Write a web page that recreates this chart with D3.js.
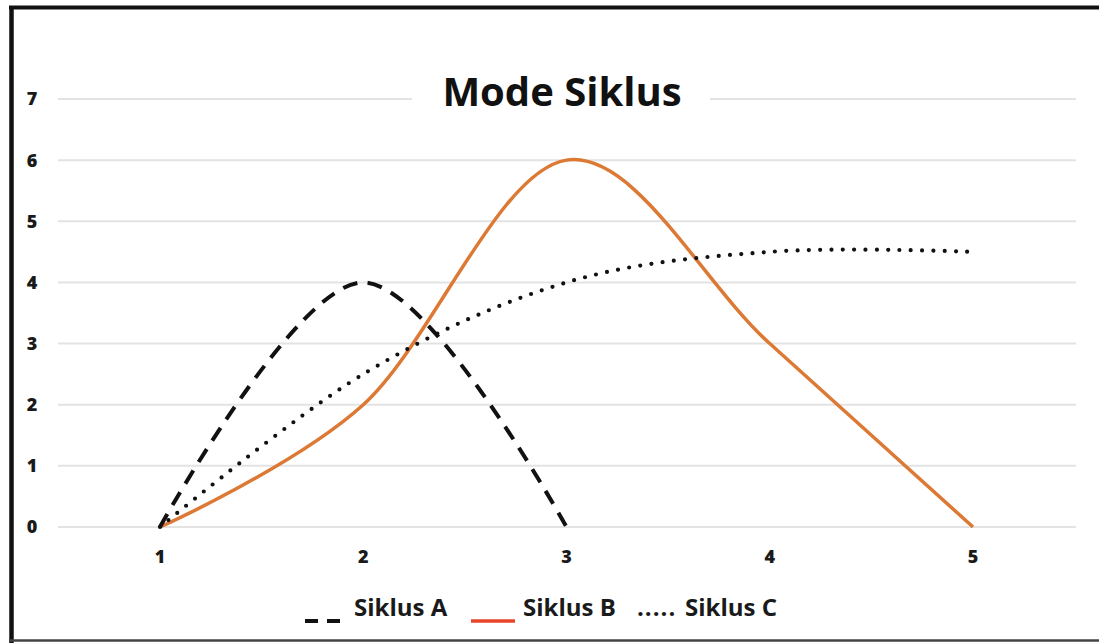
<!DOCTYPE html>
<html>
<head>
<meta charset="utf-8">
<script src="https://cdn.jsdelivr.net/npm/d3@7"></script>
<style>
  html, body { margin: 0; padding: 0; background: #fff; }
  svg { display: block; }
</style>
</head>
<body>
<svg id="chart" width="1099" height="643"></svg>
<script>
// ---- data ----
const title = "Mode Siklus";
const xTicks = [1, 2, 3, 4, 5];
const yTicks = [0, 1, 2, 3, 4, 5, 6, 7];
const xA = [1, 2, 3];
const siklusA = [0, 4, 0];
const xB = [1, 2, 3, 4, 5];
const siklusB = [0, 2, 6, 3, 0];
const xC = [1, 2, 3, 4, 5];
const siklusC = [0, 2.5, 4, 4.5, 4.5];
const legendLabels = ["Siklus A", "Siklus B", "Siklus C"];

const svg = d3.select("#chart");
const W = 1099, H = 643;
const font = "'Open Sans', 'Liberation Sans', sans-serif";

const x = d3.scaleLinear().domain([1, 5]).range([160, 973]);
const y = d3.scaleLinear().domain([0, 7]).range([527, 99]);

svg.append("rect").attr("x", 0).attr("y", 0).attr("width", W).attr("height", H).attr("fill", "#fff");

// gridlines
const gridX0 = 58, gridX1 = 1076;
svg.append("g").selectAll("line").data(yTicks).join("line")
  .attr("x1", gridX0).attr("x2", gridX1)
  .attr("y1", d => y(d)).attr("y2", d => y(d))
  .attr("stroke", "#e3e3e3").attr("stroke-width", 2);

// y labels
svg.append("g").selectAll("text").data(yTicks).join("text")
  .attr("x", 32).attr("y", d => y(d)).attr("dy", "0.36em")
  .attr("text-anchor", "middle")
  .attr("font-family", font).attr("font-weight", 800).attr("font-size", 18)
  .attr("fill", "#1a1a1a").text(d => d);

// x labels
svg.append("g").selectAll("text").data(xTicks).join("text")
  .attr("x", d => x(d)).attr("y", 563)
  .attr("text-anchor", "middle")
  .attr("font-family", font).attr("font-weight", 800).attr("font-size", 18)
  .attr("fill", "#1a1a1a").text(d => d);

// title with white background
svg.append("rect").attr("x", 412).attr("y", 70).attr("width", 298).attr("height", 50).attr("fill", "#fff");
svg.append("text").attr("x", 562).attr("y", 106).attr("text-anchor", "middle")
  .attr("font-family", font).attr("font-weight", 700).attr("font-size", 40)
  .attr("fill", "#111").text(title);

const curve = d3.curveCardinal.tension(0);
const line = d3.line().x(d => x(d[0])).y(d => y(d[1])).curve(curve);

// series B (orange)
svg.append("path").datum(d3.zip(xB, siklusB)).attr("d", line)
  .attr("fill", "none").attr("stroke", "#dc7935").attr("stroke-width", 3.5);

// series A (dashed)
svg.append("path").datum(d3.zip(xA, siklusA)).attr("d", line)
  .attr("fill", "none").attr("stroke", "#111").attr("stroke-width", 4)
  .attr("stroke-dasharray", "15 10.3");

// series C (dotted)
svg.append("path").datum(d3.zip(xC, siklusC)).attr("d", line)
  .attr("fill", "none").attr("stroke", "#111").attr("stroke-width", 4.2)
  .attr("stroke-linecap", "round").attr("stroke-dasharray", "0 11.3");

// legend
const lg = svg.append("g").attr("font-family", font).attr("font-weight", 700)
  .attr("font-size", 24).attr("fill", "#1a1a1a");
lg.append("line").attr("x1", 305).attr("x2", 318).attr("y1", 621).attr("y2", 621).attr("stroke", "#111").attr("stroke-width", 4);
lg.append("line").attr("x1", 327).attr("x2", 340).attr("y1", 621).attr("y2", 621).attr("stroke", "#111").attr("stroke-width", 4);
lg.append("text").attr("x", 354).attr("y", 616).text(legendLabels[0]);
lg.append("line").attr("x1", 471).attr("x2", 515).attr("y1", 621).attr("y2", 621).attr("stroke", "#e8452c").attr("stroke-width", 3.5);
lg.append("text").attr("x", 523).attr("y", 616).text(legendLabels[1]);
lg.append("text").attr("x", 637).attr("y", 616).attr("letter-spacing", 1).text(".....");
lg.append("text").attr("x", 685).attr("y", 616).text(legendLabels[2]);

// border
svg.append("line").attr("x1", 11.5).attr("x2", 11.5).attr("y1", 6).attr("y2", 643).attr("stroke", "#111").attr("stroke-width", 4.5);
svg.append("line").attr("x1", 9).attr("x2", W).attr("y1", 7.5).attr("y2", 7.5).attr("stroke", "#111").attr("stroke-width", 4);
svg.append("line").attr("x1", 9).attr("x2", W).attr("y1", 640.5).attr("y2", 640.5).attr("stroke", "#444").attr("stroke-width", 2.5);
</script>
</body>
</html>
